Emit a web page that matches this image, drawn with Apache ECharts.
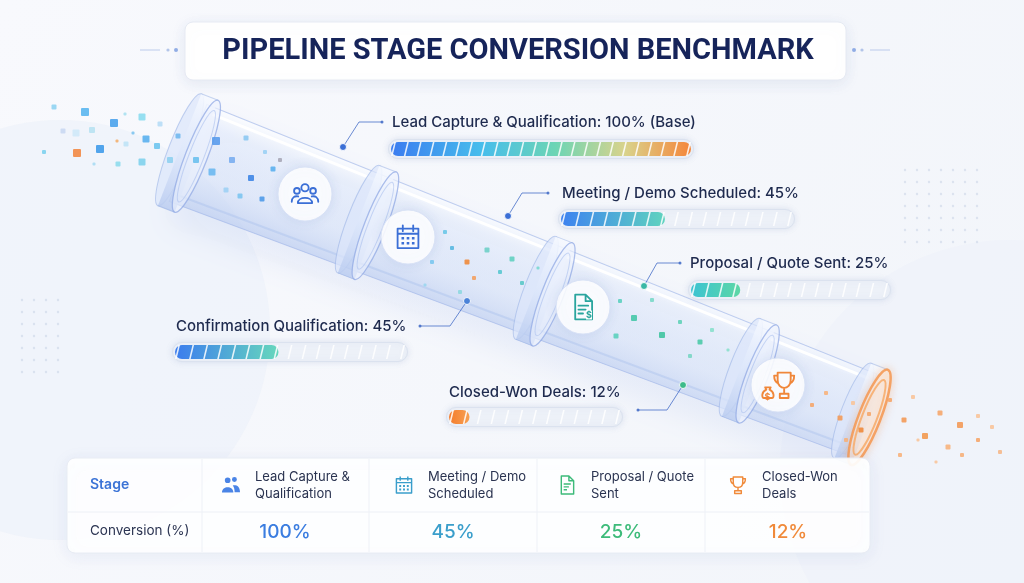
<!DOCTYPE html>
<html>
<head>
<meta charset="utf-8">
<script src="https://cdn.jsdelivr.net/npm/echarts@6/dist/echarts.min.js"></script>
<style>
  html, body { margin: 0; padding: 0; background: #f4f6fb; }
  #chart { width: 1024px; height: 583px; }
</style>
</head>
<body>
<div id="chart"></div>
<script>
// data
var titleText = 'PIPELINE STAGE CONVERSION BENCHMARK';
var barNames = ['Lead Capture & Qualification', 'Meeting / Demo Scheduled', 'Proposal / Quote Sent', 'Confirmation Qualification', 'Closed-Won Deals'];
var barValues = [100, 45, 25, 45, 12];
var barSuffix = [' (Base)', '', '', '', ''];
var tableStages = ['Lead Capture &\nQualification', 'Meeting / Demo\nScheduled', 'Proposal / Quote\nSent', 'Closed-Won\nDeals'];
var tableValues = [100, 45, 25, 12];
var tableRowNames = ['Stage', 'Conversion (%)'];

// layout / style of the five progress bars
var barLayout = [
  { x: 388, y: 139, w: 306, h: 20, tx: 392, ty: 122, seg: 24, stops: [[0, '#3b7cf0'], [0.3, '#47bdec'], [0.55, '#6dd5b4'], [0.78, '#d9d38c'], [1, '#f5863a']] },
  { x: 558, y: 209, w: 237, h: 20, tx: 562, ty: 193, seg: 17, stops: [[0, '#3d82f0'], [1, '#5fd3bf']] },
  { x: 688, y: 280, w: 203, h: 20, tx: 690, ty: 263, seg: 15, stops: [[0, '#3cc3d2'], [1, '#5cd7a6']] },
  { x: 172, y: 342, w: 236, h: 20, tx: 176, ty: 326, seg: 17, stops: [[0, '#3b7cee'], [1, '#66d7bd']] },
  { x: 446, y: 407, w: 177, h: 20, tx: 449, ty: 392, seg: 13, stops: [[0, '#f47c2c'], [1, '#f7a052']] }
];
var tableCols = [285, 453, 621, 788];
var tableColors = ['#3b7de0', '#3a9ecb', '#3dbb7a', '#f08a3a'];
var tableIcons = ['peopleFill', 'calendar', 'doc', 'trophySmall'];
var tableIconX = [231, 404, 567, 738];

// icon shapes
var ICONS = {
  people: 'M9.2,7.2A2.8,2.8 0 1,1 14.8,7.2A2.8,2.8 0 1,1 9.2,7.2Z M3.6,9.6A2.2,2.2 0 1,1 8,9.6A2.2,2.2 0 1,1 3.6,9.6Z M16,9.6A2.2,2.2 0 1,1 20.4,9.6A2.2,2.2 0 1,1 16,9.6Z M6.5,19C6.5,13.6 17.5,13.6 17.5,19Z M1.8,18C1.8,14.6 4.2,13.2 6.8,13.9 M22.2,18C22.2,14.6 19.8,13.2 17.2,13.9',
  peopleFill: 'M5.5,7A3,3 0 1,1 11.5,7A3,3 0 1,1 5.5,7Z M13,6.2A2.6,2.6 0 1,1 18.2,6.2A2.6,2.6 0 1,1 13,6.2Z M2.5,20C2.5,12.5 14.5,12.5 14.5,20Z M15.8,19.5H21.5C21.5,13 17,11.5 13.8,12.6C15.2,14.2 15.8,16.5 15.8,19.5Z',
  calendar: 'M4,5.5H20V20.5H4Z M4,9.5H20 M8,3V7.5 M16,3V7.5',
  calDots: 'M7,12h2v2h-2z M11,12h2v2h-2z M15,12h2v2h-2z M7,15.8h2v2h-2z M11,15.8h2v2h-2z M15,15.8h2v2h-2z',
  doc: 'M6,2.5H14L19,7.5V21.5H6Z M14,2.5V7.5H19 M8.5,11H16 M8.5,14H14 M8.5,17H12',
  trophy: 'M12,3.5H21V8.5C21,12 18.8,14 16.5,14C14.2,14 12,12 12,8.5Z M12,5.5H9.6C9.6,8.6 10.6,10.2 12.4,10.8 M21,5.5H23.4C23.4,8.6 22.4,10.2 20.6,10.8 M16.5,14V18 M13.5,18H19.5V21H13.5Z M2.6,21C0.8,21 0.8,16.6 4.2,15.2L3.4,13.6H7.2L6.4,15.2C9.8,16.6 9.8,21 8,21Z',
  trophySmall: 'M7,3.5H17V9C17,12.5 14.8,14.5 12,14.5C9.2,14.5 7,12.5 7,9Z M7,5.5H4.2C4.2,8.8 5.4,10.5 7.4,11 M17,5.5H19.8C19.8,8.8 18.6,10.5 16.6,11 M12,14.5V18 M8.5,18H15.5V21H8.5Z'
};
Object.keys(ICONS).forEach(function (k) {
  echarts.graphic.registerShape('icon_' + k, echarts.graphic.extendPath(ICONS[k], {}));
});

// decorative particles [x, y, size, color]
var particles = [
  [54, 107, 5, '#8fd3f2'], [85, 112, 8, '#5ab6f0'], [114, 123, 8, '#4aa2ec'], [142, 117, 7, '#8bdcf0'],
  [63, 131, 5, '#c9d8f2'], [76, 133, 7, '#cfe9f8'], [92, 130, 6, '#b8e2f2'], [77, 153, 8, '#f28a45'],
  [100, 149, 8, '#3f9bea'], [44, 152, 4, '#7ed2ee'], [118, 164, 5, '#8edbec'], [94, 164, 3, '#a9dcf3'],
  [146, 139, 7, '#5ab0ee'], [142, 162, 7, '#80d2ec'], [126, 144, 5, '#bfe3f6'], [157, 146, 6, '#6ec5ee'],
  [133, 133, 3, '#7ec4f0'], [117, 141, 3, '#f3b06e'], [125, 114, 3, '#a8e0f0'], [160, 124, 5, '#b6dcf6'],
  [170, 160, 6, '#8fd0f0'], [178, 136, 5, '#70b8ee'],
  [216, 141, 8, '#5a9cec'], [232, 160, 6, '#7aaef0'], [212, 172, 7, '#6cb8f0'], [246, 138, 5, '#8cc8f2'],
  [251, 178, 6, '#3f86e6'], [265, 152, 4, '#9bd0f4'], [273, 169, 5, '#5ab0ee'], [240, 196, 5, '#7cc4f0'],
  [262, 199, 5, '#4f9ae8'], [280, 160, 4, '#a8a8b8'], [226, 190, 5, '#9ed0f4'], [196, 160, 6, '#6cc0ee'],
  [445, 232, 4, '#6cc8e8'], [452, 248, 4, '#5ab8e0'], [467, 262, 5, '#f08a3a'], [474, 278, 4, '#f3a060'],
  [487, 250, 5, '#6fd0c8'], [500, 272, 4, '#5ac8d0'], [432, 262, 4, '#7cc8f0'], [512, 259, 5, '#62d0c0'],
  [522, 283, 4, '#5cc8c8'], [460, 292, 4, '#8fd8e0'], [425, 285, 3, '#9ad6f0'], [538, 268, 3, '#7ad8d0'],
  [620, 301, 4, '#5cd0c0'], [634, 318, 6, '#46c8a8'], [652, 300, 4, '#7ad8c8'], [662, 335, 6, '#40c4a0'],
  [680, 322, 4, '#62d2b8'], [700, 342, 5, '#4ccaa8'], [616, 336, 5, '#5cd0bc'], [690, 356, 4, '#7ad6c4'],
  [712, 330, 4, '#8ae0cc'], [728, 350, 3, '#8ae0cc'],
  [812, 405, 4, '#f5a66a'], [826, 393, 4, '#f7b27c'], [840, 418, 5, '#f39a58'], [853, 403, 4, '#f8c49a'],
  [861, 430, 5, '#f08a3a'], [846, 440, 4, '#f6b07a'], [869, 414, 4, '#f5a66a'],
  [890, 400, 4, '#f5a66a'], [904, 420, 5, '#f39a58'], [913, 397, 4, '#f8c49a'], [925, 436, 6, '#f2994f'],
  [940, 413, 5, '#f5a66a'], [948, 447, 5, '#f7b27c'], [960, 425, 6, '#f39a58'], [978, 416, 4, '#f8c49a'],
  [978, 440, 4, '#f5a66a'], [992, 427, 4, '#f8c49a'], [900, 455, 4, '#f7b27c'], [936, 462, 3, '#f8c49a'],
  [1000, 452, 4, '#f5b88a'], [962, 455, 4, '#f6b07a'], [918, 440, 3, '#f8c49a']
];

var chart = echarts.init(document.getElementById('chart'));
var G = echarts.graphic;
var els = [];

// background
els.push({ type: 'rect', z: -20, shape: { x: 0, y: 0, width: 1024, height: 583 },
  style: { fill: new G.LinearGradient(0, 0, 1, 1, [{ offset: 0, color: '#f8f9fd' }, { offset: 1, color: '#f2f5fa' }]) } });
els.push({ type: 'circle', z: -19, shape: { cx: 60, cy: 330, r: 210 }, style: { fill: 'rgba(234,239,249,0.5)' } });
els.push({ type: 'circle', z: -19, shape: { cx: 1010, cy: 470, r: 230 }, style: { fill: 'rgba(236,240,250,0.55)' } });
for (var gx = 0; gx < 7; gx++) {
  for (var gy = 0; gy < 7; gy++) {
    els.push({ type: 'circle', z: -18, shape: { cx: 905 + gx * 12, cy: 170 + gy * 12, r: 1.2 }, style: { fill: 'rgba(175,188,215,0.35)' } });
    if (gx < 4) els.push({ type: 'circle', z: -18, shape: { cx: 22 + gx * 12, cy: 300 + gy * 12, r: 1.2 }, style: { fill: 'rgba(175,188,215,0.35)' } });
  }
}

// title
[[140, 1], [890, -1]].forEach(function (s) {
  var x0 = s[0], d = s[1];
  els.push({ type: 'line', z: 1, shape: { x1: x0, y1: 50, x2: x0 + d * 20, y2: 50 }, style: { stroke: 'rgba(150,175,225,0.6)', lineWidth: 1 } });
  els.push({ type: 'circle', z: 1, shape: { cx: x0 + d * 28, cy: 50, r: 1.6 }, style: { fill: 'rgba(150,175,225,0.7)' } });
  els.push({ type: 'circle', z: 1, shape: { cx: x0 + d * 36, cy: 50, r: 2 }, style: { fill: 'rgba(120,155,225,0.8)' } });
});
els.push({ type: 'rect', z: 1, shape: { x: 185, y: 22, width: 661, height: 58, r: 8 },
  style: { fill: '#ffffff', stroke: '#e6eaf3', lineWidth: 1, shadowBlur: 14, shadowColor: 'rgba(120,140,190,0.16)', shadowOffsetY: 3 } });
els.push({ type: 'text', z: 2, x: 518, y: 52, style: { text: titleText, font: 'bold 29px Roboto', fill: '#16245a', textAlign: 'center', textVerticalAlign: 'middle' } });

// pipe
var pipeLen = 722, pipeAng = 21.2 * Math.PI / 180;
function R(u) { return 52 - 9 * u / pipeLen; }
var ringUs = [0, 192, 382, 602, pipeLen];
var pipe = [];
pipe.push({ type: 'polygon', shape: { points: [[0, -R(0)], [pipeLen, -R(pipeLen)], [pipeLen, R(pipeLen)], [0, R(0)]] },
  style: { fill: new G.LinearGradient(0, 0, 0, 1, [
    { offset: 0, color: 'rgba(252,253,255,0.95)' }, { offset: 0.2, color: 'rgba(232,239,252,0.7)' },
    { offset: 0.65, color: 'rgba(218,229,249,0.55)' }, { offset: 1, color: 'rgba(188,205,240,0.7)' }]),
    stroke: 'rgba(160,182,232,0.65)', lineWidth: 1, shadowBlur: 30, shadowColor: 'rgba(120,150,225,0.2)', shadowOffsetY: 18 } });
pipe.push({ type: 'line', shape: { x1: 6, y1: -R(6) + 7, x2: pipeLen - 6, y2: -R(pipeLen - 6) + 7 }, style: { stroke: 'rgba(255,255,255,0.95)', lineWidth: 3 } });
pipe.push({ type: 'line', shape: { x1: 6, y1: R(6) - 9, x2: pipeLen - 6, y2: R(pipeLen - 6) - 9 }, style: { stroke: 'rgba(160,185,235,0.35)', lineWidth: 2 } });
ringUs.forEach(function (u, i) {
  var r = R(u) + 8, last = i === ringUs.length - 1;
  var band = new G.LinearGradient(0, 0, 0, 1, [
    { offset: 0, color: 'rgba(246,249,255,0.9)' }, { offset: 0.5, color: 'rgba(222,232,251,0.7)' }, { offset: 1, color: 'rgba(186,204,240,0.85)' }]);
  pipe.push({ type: 'ellipse', shape: { cx: u - 9, cy: 0, rx: 11, ry: r }, style: { fill: 'rgba(220,230,251,0.7)', stroke: 'rgba(150,175,228,0.55)', lineWidth: 1 } });
  pipe.push({ type: 'rect', shape: { x: u - 9, y: -r, width: 18, height: 2 * r }, style: { fill: band } });
  pipe.push({ type: 'line', shape: { x1: u - 9, y1: -r, x2: u + 9, y2: -r }, style: { stroke: 'rgba(150,175,228,0.5)', lineWidth: 1 } });
  pipe.push({ type: 'line', shape: { x1: u - 9, y1: r, x2: u + 9, y2: r }, style: { stroke: 'rgba(150,175,228,0.6)', lineWidth: 1 } });
  pipe.push({ type: 'ellipse', shape: { cx: u + 9, cy: 0, rx: 11, ry: r },
    style: { fill: last ? 'rgba(255,246,238,0.5)' : 'rgba(236,242,254,0.6)', stroke: last ? 'rgba(245,150,80,0.85)' : 'rgba(145,170,228,0.75)', lineWidth: last ? 2.5 : 1.3,
      shadowBlur: last ? 8 : 0, shadowColor: 'rgba(245,150,80,0.5)' } });
  pipe.push({ type: 'ellipse', shape: { cx: u + 9, cy: 0, rx: 7.5, ry: R(u) - 3 },
    style: { fill: 'none', stroke: last ? 'rgba(247,170,105,0.85)' : 'rgba(170,192,238,0.6)', lineWidth: last ? 2 : 1 } });
});
els.push({ type: 'group', z: 3, x: 188, y: 153, rotation: -pipeAng, children: pipe });

// particles
particles.forEach(function (p) {
  els.push({ type: 'rect', z: 4, shape: { x: p[0] - p[2] / 2, y: p[1] - p[2] / 2, width: p[2], height: p[2], r: 1 }, style: { fill: p[3], opacity: 0.9 } });
});

// pipe icons
var pipeIcons = [
  { cx: 305, cy: 194, icon: 'people', color: '#3b6fd6' },
  { cx: 408, cy: 237, icon: 'calendar', color: '#3b6fd6', dots: true },
  { cx: 583, cy: 307, icon: 'doc', color: '#2aa59e', dollar: true },
  { cx: 778, cy: 385, icon: 'trophy', color: '#f0873a' }
];
pipeIcons.forEach(function (ic) {
  els.push({ type: 'circle', z: 5, shape: { cx: ic.cx, cy: ic.cy, r: 27 },
    style: { fill: 'rgba(255,255,255,0.88)', stroke: 'rgba(215,225,245,0.9)', lineWidth: 1, shadowBlur: 12, shadowColor: 'rgba(100,130,200,0.2)' } });
  var tro = ic.icon === 'trophy', s = tro ? 1.45 : 1.3, w = tro ? 24.5 : 24;
  els.push({ type: 'icon_' + ic.icon, z: 6, x: ic.cx - w / 2 * s, y: ic.cy - 12 * s, scaleX: s, scaleY: s,
    style: { fill: 'none', stroke: ic.color, lineWidth: tro ? 1.3 : 1.4, lineJoin: 'round', lineCap: 'round' } });
  if (ic.dots) els.push({ type: 'icon_calDots', z: 6, x: ic.cx - 12 * s, y: ic.cy - 12 * s, scaleX: s, scaleY: s, style: { fill: ic.color } });
  if (ic.dollar) els.push({ type: 'text', z: 7, x: ic.cx + 6, y: ic.cy + 8, style: { text: '$', font: 'bold 9px Inter', fill: ic.color, textAlign: 'center', textVerticalAlign: 'middle', backgroundColor: '#fff' } });
  if (tro) els.push({ type: 'text', z: 7, x: ic.cx - 10.5, y: ic.cy + 12, style: { text: '$', font: 'bold 9px Inter', fill: ic.color, textAlign: 'center', textVerticalAlign: 'middle' } });
});

// leader lines
var leaders = [
  { pts: [[343, 147], [359, 122], [382, 122]], c: '#3b6fd6' },
  { pts: [[508, 216], [522, 193], [548, 193]], c: '#3b6fd6' },
  { pts: [[644, 286], [657, 263], [680, 263]], c: '#3ab8a6' },
  { pts: [[467, 301], [450, 326], [420, 326]], c: '#4a82d8' },
  { pts: [[683, 385], [667, 410], [638, 410]], c: '#3dbb8a' }
];
leaders.forEach(function (l) {
  els.push({ type: 'polyline', z: 8, shape: { points: l.pts }, style: { stroke: 'rgba(70,110,200,0.8)', lineWidth: 1, fill: 'none' } });
  els.push({ type: 'circle', z: 8, shape: { cx: l.pts[0][0], cy: l.pts[0][1], r: 3.5 }, style: { fill: l.c, stroke: 'rgba(255,255,255,0.9)', lineWidth: 1 } });
  els.push({ type: 'circle', z: 8, shape: { cx: l.pts[2][0], cy: l.pts[2][1], r: 1.5 }, style: { fill: 'rgba(70,110,200,0.9)' } });
});

// bar labels
barNames.forEach(function (n, i) {
  var b = barLayout[i];
  els.push({ type: 'text', z: 10, x: b.tx, y: b.ty, style: { text: n + ': ' + barValues[i] + '%' + barSuffix[i], font: '500 15px Inter', fill: '#1e2a4e', textAlign: 'left', textVerticalAlign: 'middle' } });
});

// table
els.push({ type: 'rect', z: 10, shape: { x: 67, y: 458, width: 803, height: 95, r: 8 },
  style: { fill: 'rgba(255,255,255,0.92)', stroke: '#e8ecf4', lineWidth: 1, shadowBlur: 16, shadowColor: 'rgba(120,140,190,0.14)', shadowOffsetY: 3 } });
els.push({ type: 'line', z: 11, shape: { x1: 68, y1: 512, x2: 869, y2: 512 }, style: { stroke: '#edf0f6', lineWidth: 1 } });
[202, 369, 537, 705].forEach(function (x) {
  els.push({ type: 'line', z: 11, shape: { x1: x, y1: 459, x2: x, y2: 552 }, style: { stroke: '#eef1f7', lineWidth: 1 } });
});
els.push({ type: 'text', z: 12, x: 90, y: 485, style: { text: tableRowNames[0], font: '600 14px Inter', fill: '#3b73d6', textVerticalAlign: 'middle' } });
els.push({ type: 'text', z: 12, x: 90, y: 531, style: { text: tableRowNames[1], font: '13.5px Inter', fill: '#2b3452', textVerticalAlign: 'middle' } });
tableStages.forEach(function (st, i) {
  var cx = tableCols[i], c = tableColors[i];
  var ix = tableIconX[i], iy = 485, s = 0.95;
  var filled = tableIcons[i] === 'peopleFill';
  els.push({ type: 'icon_' + tableIcons[i], z: 12, x: ix - 12 * s, y: iy - 12 * s, scaleX: s, scaleY: s,
    style: filled ? { fill: '#4a84e6' } : { fill: 'none', stroke: c, lineWidth: 1.5, lineJoin: 'round' } });
  if (tableIcons[i] === 'calendar') els.push({ type: 'icon_calDots', z: 12, x: ix - 12 * s, y: iy - 12 * s, scaleX: s, scaleY: s, style: { fill: c } });
  els.push({ type: 'text', z: 12, x: ix + 24, y: 486, style: { text: st, font: '13px Inter', fill: '#2a3350', lineHeight: 17, textVerticalAlign: 'middle' } });
  els.push({ type: 'text', z: 12, x: cx, y: 532, style: { text: tableValues[i] + '%', font: '500 19px Inter', fill: c, textAlign: 'center', textVerticalAlign: 'middle' } });
});

// progress bars: outer grid = track, inner grid = fill + segment marks
var grids = [], xAxes = [], yAxes = [], series = [];
barLayout.forEach(function (b, i) {
  var g0 = i * 2, g1 = i * 2 + 1, ih = b.h - 6;
  grids.push({ left: b.x, top: b.y, width: b.w, height: b.h });
  grids.push({ left: b.x + 3, top: b.y + 3, width: b.w - 6, height: ih });
  [g0, g1].forEach(function (g) {
    xAxes.push({ gridIndex: g, type: 'value', min: 0, max: 100, show: false });
    yAxes.push({ gridIndex: g, type: 'category', data: [barNames[i]], show: false });
  });
  series.push({ type: 'bar', xAxisIndex: g0, yAxisIndex: g0, data: [100], barWidth: b.h, silent: true, z: 5,
    itemStyle: { color: '#edf1f8', borderColor: '#dbe2ef', borderWidth: 1, borderRadius: b.h / 2, shadowBlur: 6, shadowColor: 'rgba(140,160,205,0.25)' } });
  series.push({ type: 'bar', xAxisIndex: g1, yAxisIndex: g1, data: [barValues[i]], barWidth: ih, silent: true, z: 6,
    itemStyle: { borderRadius: ih / 2, color: new G.LinearGradient(0, 0, 1, 0, b.stops.map(function (s) { return { offset: s[0], color: s[1] }; })) } });
  series.push({ type: 'pictorialBar', xAxisIndex: g1, yAxisIndex: g1, data: [100], silent: true, z: 7,
    symbol: 'path://M3.4,0L5,0L1.6,14L0,14Z', symbolSize: [5, ih], symbolRepeat: b.seg, symbolBoundingData: 100,
    itemStyle: { color: 'rgba(255,255,255,0.85)' } });
});

chart.setOption({
  animation: false,
  grid: grids,
  xAxis: xAxes,
  yAxis: yAxes,
  series: series,
  graphic: { elements: els }
});
</script>
</body>
</html>
